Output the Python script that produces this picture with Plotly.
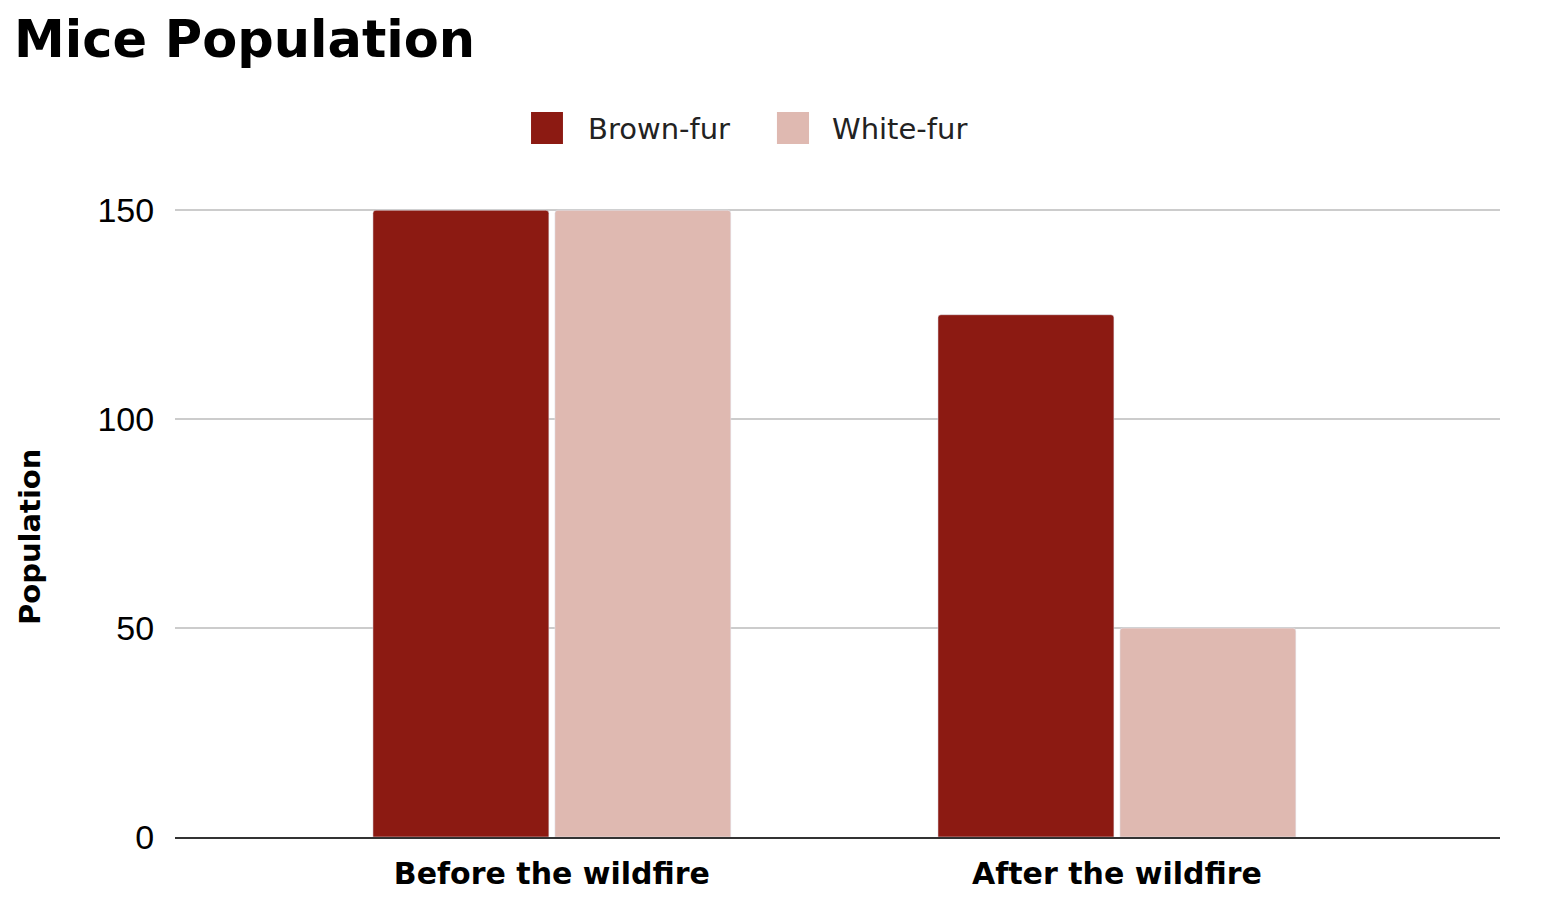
import plotly.graph_objects as go

# data
categories = ["Before the wildfire", "After the wildfire"]
series_names = ["Brown-fur", "White-fur"]
brown_fur = [150, 125]
white_fur = [150, 50]
colors = ["#8c1a12", "#dfb9b1"]
y_ticks = [0, 50, 100, 150]

fig = go.Figure()
for name, vals, col in zip(series_names, [brown_fur, white_fur], colors):
    fig.add_trace(go.Bar(x=categories, y=vals, name=name, showlegend=False,
                         marker=dict(color=col, cornerradius=3)))

# legend drawn by hand so the swatches can be as big as in the original
sw_x = [(0.2687, 0.2928), (0.4543, 0.4785)]
txt_x = [0.3102, 0.4943]
for name, col, (x0, x1), tx in zip(series_names, colors, sw_x, txt_x):
    fig.add_shape(type="rect", xref="paper", yref="paper",
                  x0=x0, x1=x1, y0=1.1035, y1=1.1545,
                  fillcolor=col, line=dict(width=0))
    fig.add_annotation(text=name, xref="paper", yref="paper", x=tx, y=1.1274,
                       xanchor="left", yanchor="middle", showarrow=False,
                       font=dict(family="DejaVu Sans", size=29, color="#222"))

# y axis title (sits a little below the middle in the original)
fig.add_annotation(text="<b>Population</b>", xref="paper", yref="paper",
                   x=-0.1094, y=0.4777, textangle=-90, showarrow=False,
                   xanchor="center", yanchor="middle",
                   font=dict(family="DejaVu Sans", size=29, color="black"))

fig.update_layout(
    width=1546, height=904,
    paper_bgcolor="white", plot_bgcolor="white",
    margin=dict(l=167, r=54, t=201, b=75),
    barmode="group", bargap=0.356, bargroupgap=0.033,
    title=dict(text="<b>Mice Population</b>", x=0.0039, xanchor="left",
               y=0.9657, yanchor="middle",
               font=dict(family="DejaVu Sans", size=51, color="black")),
    showlegend=False,
)

fig.update_xaxes(type="category", range=[-0.667, 1.678],
                 tickfont=dict(family="DejaVu Sans", size=30, color="black"),
                 tickprefix="<b>", ticksuffix="</b>", ticklabelstandoff=9,
                 showgrid=False, showline=True, linecolor="#333", linewidth=2,
                 ticks="")
fig.update_yaxes(range=[0, 150.3], tickvals=y_ticks,
                 tickfont=dict(family="Liberation Sans", size=34, color="black"),
                 showgrid=True, gridcolor="#cccccc", gridwidth=2,
                 zeroline=False, ticks="outside", ticklen=13, tickcolor="white")

fig.write_html("out.html")
